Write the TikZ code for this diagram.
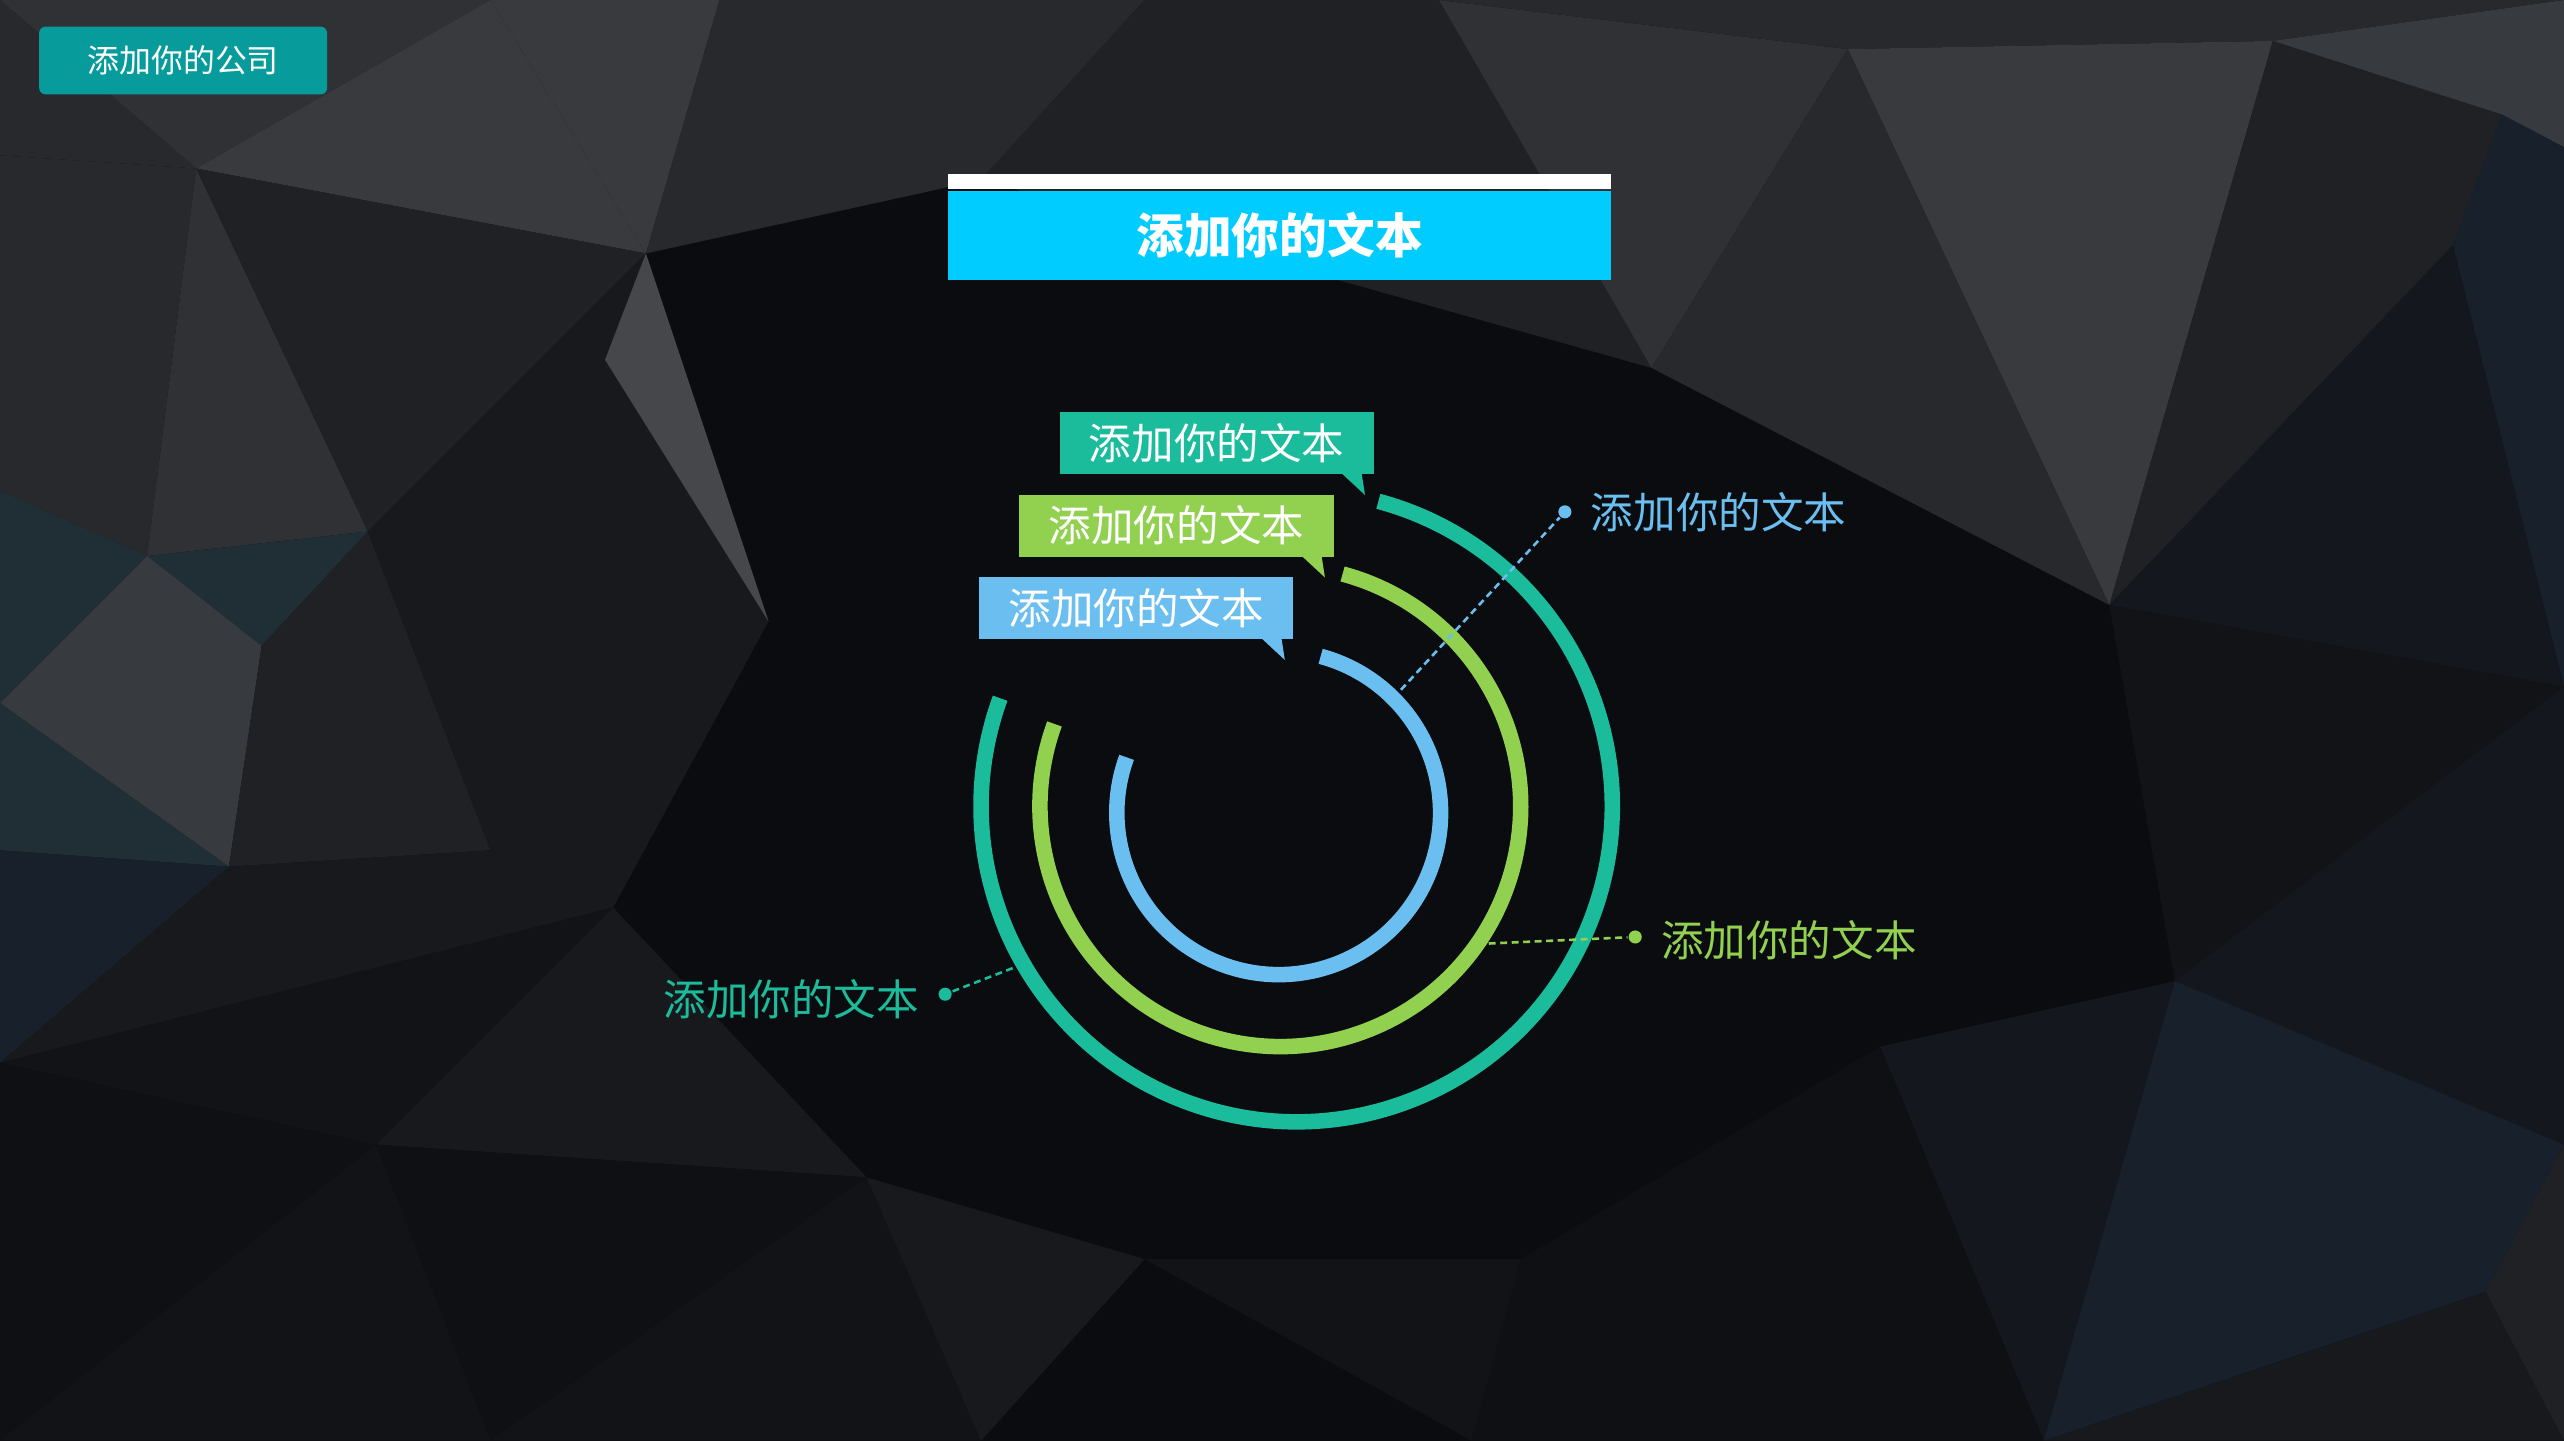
\documentclass[tikz,border=0pt]{standalone}
\usepackage{fontspec}
\newfontfamily\cjk{Noto Sans CJK SC}
\usetikzlibrary{positioning, calc}

\definecolor{ringteal}{HTML}{1ABC9C}
\definecolor{ringgreen}{HTML}{92D050}
\definecolor{ringblue}{HTML}{6ABEF0}
\definecolor{tagteal}{HTML}{089B9B}
\definecolor{titlecyan}{HTML}{00CCFF}
\definecolor{bgbase}{HTML}{0B0C0F}
\definecolor{bgA}{HTML}{393A3E}
\definecolor{bgB}{HTML}{2F3135}
\definecolor{bgC}{HTML}{27292D}
\definecolor{bgD}{HTML}{1F2124}
\definecolor{bgE}{HTML}{18191D}
\definecolor{bgF}{HTML}{121316}
\definecolor{bgG}{HTML}{46474A}
\definecolor{bgH}{HTML}{202E35}
\definecolor{bgI}{HTML}{18212B}
\definecolor{bgJ}{HTML}{14181E}
\definecolor{bgK}{HTML}{373A3E}
\definecolor{bgL}{HTML}{0F1013}

\begin{document}
\begin{tikzpicture}[x=0.01cm, y=0.01cm,
    ring/.style={line width=2.7pt},
    callout/.style={rectangle, minimum width=1.92cm, minimum height=0.38cm, inner sep=0pt, text=white, font={\cjk\fontsize{7.4pt}{9pt}\selectfont}},
    leader/.style={dash pattern=on 1.2pt off 0.8pt, line width=0.45pt},
    enddot/.style={circle, inner sep=0pt, minimum size=0.08cm},
    tag/.style={inner sep=0pt, font={\cjk\fontsize{7.4pt}{9pt}\selectfont}}]

    \useasboundingbox (0,0) rectangle (1568,-881);
    \fill[bgbase] (0,0) rectangle (1568,-881);

    % Background facets
    \fill[bgB] (0,0) -- (300,0) -- (120,-103) -- cycle;
    \fill[bgC] (0,0) -- (120,-103) -- (0,-95) -- cycle;
    \fill[bgA] (300,0) -- (440,0) -- (395,-155) -- cycle;
    \fill[bgA] (300,0) -- (395,-155) -- (120,-103) -- cycle;
    \fill[bgC] (440,0) -- (700,0) -- (600,-110) -- (395,-155) -- cycle;
    \fill[bgD] (700,0) -- (880,0) -- (1010,-225) -- (600,-110) -- cycle;
    \fill[bgB] (880,0) -- (1130,-30) -- (1010,-225) -- cycle;
    \fill[bgC] (880,0) -- (1568,0) -- (1390,-25) -- (1130,-30) -- cycle;
    \fill[bgA] (1130,-30) -- (1390,-25) -- (1290,-370) -- cycle;
    \fill[bgC] (1130,-30) -- (1290,-370) -- (1010,-225) -- cycle;
    \fill[bgD] (1390,-25) -- (1530,-70) -- (1500,-150) -- (1290,-370) -- cycle;
    \fill[bgK] (1390,-25) -- (1568,0) -- (1568,-90) -- (1530,-70) -- cycle;
    \fill[bgI] (1530,-70) -- (1568,-90) -- (1568,-420) -- (1500,-150) -- cycle;
    \fill[bgJ] (1500,-150) -- (1568,-420) -- (1290,-370) -- cycle;
    \fill[bgC] (0,-95) -- (120,-103) -- (90,-340) -- (0,-300) -- cycle;
    \fill[bgB] (120,-103) -- (225,-325) -- (90,-340) -- cycle;
    \fill[bgD] (120,-103) -- (395,-155) -- (225,-325) -- cycle;
    \fill[bgE] (395,-155) -- (470,-380) -- (225,-325) -- cycle;
    \fill[bgG] (370,-220) -- (395,-155) -- (470,-380) -- cycle;
    \fill[bgH] (0,-300) -- (90,-340) -- (0,-430) -- cycle;
    \fill[bgH] (90,-340) -- (225,-325) -- (160,-395) -- cycle;
    \fill[bgK] (0,-430) -- (90,-340) -- (160,-395) -- (140,-530) -- cycle;
    \fill[bgH] (0,-430) -- (140,-530) -- (0,-520) -- cycle;
    \fill[bgI] (0,-520) -- (140,-530) -- (0,-650) -- cycle;
    \fill[bgD] (160,-395) -- (225,-325) -- (300,-520) -- (140,-530) -- cycle;
    \fill[bgE] (225,-325) -- (470,-380) -- (375,-555) -- (300,-520) -- cycle;
    \fill[bgE] (140,-530) -- (300,-520) -- (375,-555) -- (0,-650) -- cycle;
    \fill[bgF] (0,-650) -- (375,-555) -- (230,-700) -- cycle;
    \fill[bgL] (0,-650) -- (230,-700) -- (0,-881) -- cycle;
    \fill[bgF] (0,-881) -- (230,-700) -- (300,-881) -- cycle;
    \fill[bgE] (230,-700) -- (375,-555) -- (530,-720) -- cycle;
    \fill[bgL] (230,-700) -- (530,-720) -- (300,-881) -- cycle;
    \fill[bgF] (300,-881) -- (530,-720) -- (600,-881) -- cycle;
    \fill[bgE] (530,-720) -- (700,-770) -- (600,-881) -- cycle;
    \fill[bgF] (700,-770) -- (930,-770) -- (900,-881) -- cycle;
    \fill[bgL] (930,-770) -- (1150,-640) -- (1250,-881) -- (900,-881) -- cycle;
    \fill[bgJ] (1150,-640) -- (1330,-600) -- (1250,-881) -- cycle;
    \fill[bgI] (1330,-600) -- (1520,-790) -- (1250,-881) -- cycle;
    \fill[bgD] (1520,-790) -- (1568,-700) -- (1568,-881) -- cycle;
    \fill[bgE] (1250,-881) -- (1520,-790) -- (1568,-881) -- cycle;
    \fill[bgF] (1290,-370) -- (1568,-420) -- (1330,-600) -- cycle;
    \fill[bgJ] (1330,-600) -- (1568,-420) -- (1568,-700) -- cycle;
    \fill[bgI] (1330,-600) -- (1568,-700) -- (1520,-790) -- cycle;

    % Header
    \node (company) [rectangle, rounded corners=0.04cm, fill=tagteal, minimum width=1.76cm, minimum height=0.38cm, text=white, font={\cjk\fontsize{5.55pt}{7pt}\selectfont}] at (112,-37) {添加你的公司};
    \node (title) [rectangle, fill=titlecyan, minimum width=4.05cm, minimum height=0.54cm, text=white, font={\cjk\bfseries\fontsize{8.3pt}{10pt}\selectfont}] at (782.5,-144) {添加你的文本};
    \node (titleline) [rectangle, fill=white, minimum width=4.05cm, minimum height=0.09cm, inner sep=0pt, above=0pt of title] {};

    % Rings
    \coordinate (cteal) at (793,-493);
    \coordinate (cgreen) at (783,-493);
    \coordinate (cblue) at (782,-497);
    \draw[ring, ringteal] ($(cteal)+(160:193)$) arc[start angle=160, end angle=435, radius=193];
    \draw[ring, ringgreen] ($(cgreen)+(160:147)$) arc[start angle=160, end angle=435, radius=147];
    \draw[ring, ringblue] ($(cblue)+(160:99)$) arc[start angle=160, end angle=435, radius=99];

    % Callouts
    \node (callteal) [callout, fill=ringteal] at (744,-271) {添加你的文本};
    \node (callgreen) [callout, fill=ringgreen, below=0.11cm of callteal, xshift=-0.245cm] {添加你的文本};
    \node (callblue) [callout, fill=ringblue, below=0.11cm of callgreen, xshift=-0.245cm] {添加你的文本};
    \fill[ringteal] ($(callteal.south east)+(-20,1)$) -- ++(12,0) -- ++(2,-13) -- cycle;
    \fill[ringgreen] ($(callgreen.south east)+(-20,1)$) -- ++(12,0) -- ++(2,-13) -- cycle;
    \fill[ringblue] ($(callblue.south east)+(-20,1)$) -- ++(12,0) -- ++(2,-13) -- cycle;

    % Leaders and labels
    \coordinate (bluehit) at ($(cblue)+(45:99)$);
    \coordinate (greenhit) at ($(cgreen)+(-35:147)$);
    \coordinate (tealhit) at ($(cteal)+(210:193)$);
    \node (bluedot) [enddot, fill=ringblue] at (957,-313) {};
    \node (greendot) [enddot, fill=ringgreen] at (1000,-573) {};
    \node (tealdot) [enddot, fill=ringteal] at (578,-608) {};
    \node (bluetag) [tag, text=ringblue, right=3pt of bluedot] {添加你的文本};
    \node (greentag) [tag, text=ringgreen, right=3pt of greendot, yshift=-0.02cm] {添加你的文本};
    \node (tealtag) [tag, text=ringteal, left=3pt of tealdot, yshift=-0.03cm] {添加你的文本};
    \draw[leader, ringblue] (bluehit) -- (bluedot);
    \draw[leader, ringgreen] (greenhit) -- (greendot);
    \draw[leader, ringteal] (tealhit) -- (tealdot);

\end{tikzpicture}
\end{document}
